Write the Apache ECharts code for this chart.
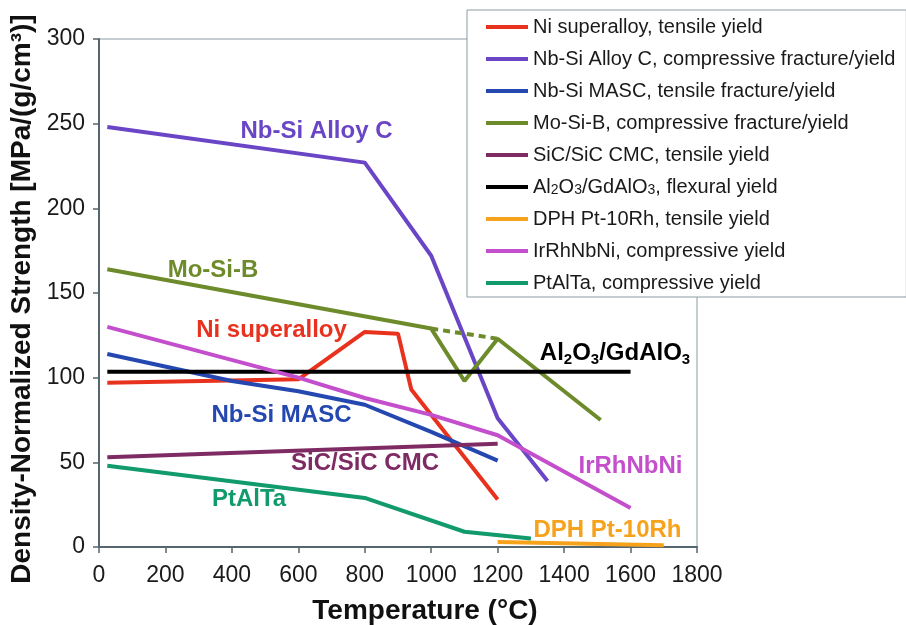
<!DOCTYPE html>
<html>
<head>
<meta charset="utf-8">
<script src="https://cdn.jsdelivr.net/npm/echarts@6/dist/echarts.min.js"></script>
<style>
html,body{margin:0;padding:0;background:#fff;}
#chart{width:906px;height:625px;}
</style>
</head>
<body>
<div id="chart"></div>
<script>
// ---- Data (temperature °C, density-normalized strength) ----
const xTicks = [0, 200, 400, 600, 800, 1000, 1200, 1400, 1600, 1800];
const yTicks = [0, 50, 100, 150, 200, 250, 300];

const seriesNames = [
  'Ni superalloy, tensile yield',
  'Nb-Si Alloy C, compressive fracture/yield',
  'Nb-Si MASC, tensile fracture/yield',
  'Mo-Si-B, compressive fracture/yield',
  'SiC/SiC CMC, tensile yield',
  'Al2O3/GdAlO3, flexural yield',
  'DPH Pt-10Rh, tensile yield',
  'IrRhNbNi, compressive yield',
  'PtAlTa, compressive yield'
];

const niSuperalloy = [[25, 97], [600, 99], [800, 127], [900, 126], [940, 93], [1200, 28]];
const nbSiAlloyC   = [[25, 248], [800, 227], [1000, 172], [1200, 76], [1350, 39]];
const nbSiMASC     = [[25, 114], [400, 98], [600, 92], [800, 84], [1000, 68], [1200, 51]];
const moSiB        = [[25, 164], [1000, 129], [1100, 98], [1200, 123], [1510, 75]];
const moSiBGap     = [[1000, 129], [1200, 123]];
const sicCMC       = [[25, 53], [1200, 61]];
const al2o3        = [[25, 103.5], [1600, 103.5]];
const dphPt10Rh    = [[1200, 3], [1700, 1]];
const irRhNbNi     = [[25, 130], [600, 100], [800, 88], [1000, 78], [1200, 66], [1600, 23]];
const ptAlTa       = [[25, 48], [800, 29], [1100, 9], [1300, 5]];

const seriesData = [niSuperalloy, nbSiAlloyC, nbSiMASC, moSiB, sicCMC, al2o3, dphPt10Rh, irRhNbNi, ptAlTa];
const colors = ['#e8321e', '#6a45c6', '#2548b0', '#6e8b2b', '#7f2b63', '#000000', '#f7a21b', '#c44fcc', '#119a6b'];

const FONT = '"Liberation Sans", Arial, Helvetica, sans-serif';

const series = seriesData.map((d, i) => ({
  name: seriesNames[i],
  type: 'line',
  data: d,
  showSymbol: false,
  symbol: 'none',
  color: colors[i],
  lineStyle: { width: 4, color: colors[i] },
  animation: false,
  z: 3
}));
series.push({
  name: 'Mo-Si-B gap',
  type: 'line',
  data: moSiBGap,
  showSymbol: false,
  symbol: 'none',
  color: colors[3],
  lineStyle: { width: 4, color: colors[3], type: [7, 5] },
  animation: false,
  z: 3
});

function label(text, x, y, color) {
  return {
    type: 'text', x: x, y: y, z: 10,
    style: {
      text: text, fill: color, font: 'bold 24px ' + FONT,
      align: 'center', verticalAlign: 'middle',
      textAlign: 'center', textVerticalAlign: 'middle'
    }
  };
}

const chart = echarts.init(document.getElementById('chart'), null, { renderer: 'canvas' });
chart.setOption({
  backgroundColor: '#ffffff',
  animation: false,
  grid: {
    left: 99, right: 209, top: 39, bottom: 78,
    show: true, borderColor: '#8d9ca3', borderWidth: 1, backgroundColor: 'transparent'
  },
  xAxis: {
    type: 'value', min: 0, max: 1800, interval: 200,
    axisLine: { show: true, lineStyle: { color: '#56666e', width: 2 } },
    axisTick: { show: true, length: 6, inside: false, lineStyle: { color: '#56666e', width: 1.5 } },
    splitLine: { show: false },
    axisLabel: {
      margin: 17, color: '#1a1a1a', fontSize: 23, fontFamily: FONT,
      formatter: v => xTicks.indexOf(v) >= 0 ? String(v) : ''
    }
  },
  yAxis: {
    type: 'value', min: 0, max: 300, interval: 50,
    axisLine: { show: true, lineStyle: { color: '#56666e', width: 2 } },
    axisTick: { show: true, length: 6, inside: false, lineStyle: { color: '#56666e', width: 1.5 } },
    splitLine: { show: false },
    axisLabel: {
      margin: 14, color: '#1a1a1a', fontSize: 23, fontFamily: FONT,
      formatter: v => yTicks.indexOf(v) >= 0 ? String(v) : ''
    }
  },
  legend: {
    data: seriesNames,
    orient: 'vertical',
    left: 467, top: 10,
    padding: [7, 11, 4, 19],
    itemWidth: 42, itemHeight: 4, itemGap: 12,
    icon: 'rect',
    selectedMode: false,
    backgroundColor: '#ffffff',
    borderColor: '#8d9ca3', borderWidth: 1,
    textStyle: {
      fontSize: 20, lineHeight: 20, color: '#1a1a1a', fontFamily: FONT,
      rich: {
        n: { fontSize: 20, lineHeight: 20, color: '#1a1a1a', fontFamily: FONT, verticalAlign: 'top' },
        s: { fontSize: 14, lineHeight: 14, color: '#1a1a1a', fontFamily: FONT, verticalAlign: 'bottom' }
      }
    },
    formatter: function (name) {
      if (name === 'Al2O3/GdAlO3, flexural yield') {
        return '{n|Al}{s|2}{n|O}{s|3}{n|/GdAlO}{s|3}{n|, flexural yield}';
      }
      return name;
    },
    z: 20
  },
  series: series,
  graphic: [
    label('Nb-Si Alloy C', 316.5, 131, colors[1]),
    label('Mo-Si-B', 213, 270, colors[3]),
    label('Ni superalloy', 271.5, 330, colors[0]),
    label('Nb-Si MASC', 281.5, 415, colors[2]),
    label('SiC/SiC CMC', 365, 463.5, colors[4]),
    label('IrRhNbNi', 630.5, 466.5, colors[7]),
    label('PtAlTa', 249, 499, colors[8]),
    label('DPH Pt-10Rh', 607.5, 530.5, colors[6]),
    {
      type: 'text', x: 615, y: 353, z: 10,
      style: {
        text: '{b|Al}{s|2}{b|O}{s|3}{b|/GdAlO}{s|3}',
        align: 'center', verticalAlign: 'middle',
        textAlign: 'center', textVerticalAlign: 'middle',
        fill: '#000',
        rich: {
          b: { fontSize: 24, lineHeight: 24, fontWeight: 'bold', fontFamily: FONT, fill: '#000', color: '#000', verticalAlign: 'top' },
          s: { fontSize: 15, lineHeight: 15, fontWeight: 'bold', fontFamily: FONT, fill: '#000', color: '#000', padding: [13, 0, 0, 0] }
        }
      }
    },
    {
      type: 'text', x: 425, y: 611, z: 10,
      style: {
        text: 'Temperature (°C)', fill: '#111', font: 'bold 28px ' + FONT,
        align: 'center', verticalAlign: 'middle', textAlign: 'center', textVerticalAlign: 'middle'
      }
    },
    {
      type: 'text', x: 22, y: 299, rotation: Math.PI / 2, z: 10,
      style: {
        text: 'Density-Normalized Strength [MPa/(g/cm³)]', fill: '#111', font: 'bold 28px ' + FONT,
        align: 'center', verticalAlign: 'middle', textAlign: 'center', textVerticalAlign: 'middle'
      }
    }
  ]
});
</script>
</body>
</html>
